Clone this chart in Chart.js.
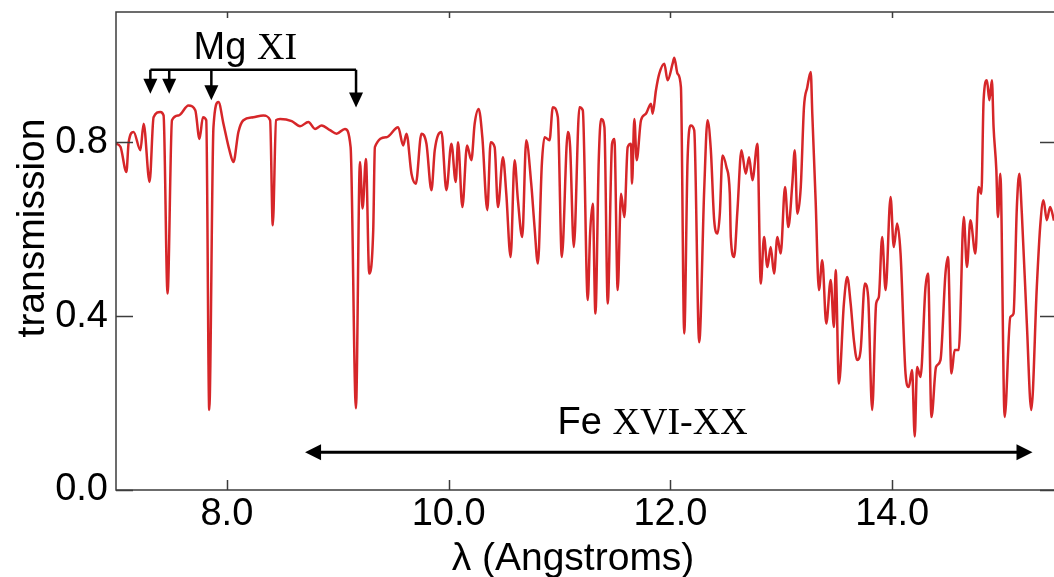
<!DOCTYPE html>
<html>
<head>
<meta charset="utf-8">
<script src="https://cdn.jsdelivr.net/npm/chart.js"></script>
<style>
  html, body { margin: 0; padding: 0; background: #fff; }
  #wrap { width: 1054px; height: 577px; }
</style>
</head>
<body>
<div id="wrap"><canvas id="spectrum" width="1054" height="577"></canvas></div>
<script>
// wavelength (Angstroms) and transmission, row by row
var wavelength = [
  7.000, 7.040, 7.094, 7.114, 7.159, 7.220, 7.249, 7.303, 7.339, 7.400,
  7.429, 7.465, 7.505, 7.564, 7.654, 7.715, 7.753, 7.784, 7.814, 7.841,
  7.879, 7.924, 7.969, 8.023, 8.059, 8.104, 8.149, 8.239, 8.329, 8.390,
  8.414, 8.444, 8.480, 8.585, 8.660, 8.735, 8.795, 8.855, 8.930, 8.990,
  9.065, 9.116,
  9.164, 9.200, 9.224, 9.254, 9.284, 9.320, 9.335, 9.440, 9.545, 9.590,
  9.620, 9.665, 9.704, 9.755, 9.800, 9.845, 9.875, 9.935, 9.980, 10.025,
  10.064, 10.085, 10.124, 10.166, 10.205, 10.235, 10.271, 10.304, 10.349, 10.379,
  10.415, 10.445, 10.490, 10.520, 10.559, 10.595, 10.625, 10.664, 10.700, 10.745,
  10.775, 10.805, 10.841, 10.865, 10.910, 10.940, 10.985, 11.021, 11.075, 11.096,
  11.129, 11.180, 11.210, 11.255, 11.276, 11.300, 11.324, 11.354, 11.375, 11.405,
  11.435, 11.474, 11.495, 11.525, 11.555, 11.585, 11.615, 11.645, 11.654, 11.675,
  11.696, 11.735, 11.780, 11.825, 11.840, 11.870, 11.900, 11.945, 11.975, 12.020,
  12.035, 12.065, 12.095, 12.125, 12.155, 12.185, 12.215, 12.260, 12.305, 12.335,
  12.365, 12.395, 12.425, 12.446, 12.470, 12.506, 12.536, 12.545, 12.575, 12.605,
  12.641, 12.680, 12.710, 12.740, 12.785, 12.815, 12.845, 12.875, 12.905, 12.935,
  12.965, 12.995, 13.034, 13.064, 13.100, 13.122, 13.145, 13.176, 13.205, 13.235,
  13.266, 13.280, 13.310, 13.340, 13.370, 13.406, 13.446, 13.475, 13.491, 13.520,
  13.565, 13.595, 13.626, 13.655, 13.685, 13.716, 13.754, 13.784, 13.820, 13.856,
  13.880, 13.910, 13.941, 13.986, 14.015, 14.045, 14.076, 14.121, 14.150, 14.180,
  14.204, 14.225, 14.256, 14.301, 14.324, 14.355, 14.396, 14.436, 14.481, 14.504,
  14.535, 14.564, 14.601, 14.646, 14.675, 14.706, 14.751, 14.780, 14.805, 14.825,
  14.855, 14.877, 14.900, 14.915, 14.940, 14.954, 14.976, 15.015, 15.066, 15.095,
  15.125, 15.147, 15.170, 15.215, 15.255, 15.305, 15.335, 15.365, 15.395, 15.425,
  15.460
];
var transmission = [
  0.797, 0.790, 0.732, 0.800, 0.824, 0.782, 0.843, 0.709, 0.858, 0.870,
  0.862, 0.452, 0.851, 0.862, 0.885, 0.874, 0.808, 0.858, 0.851, 0.184,
  0.835, 0.893, 0.843, 0.782, 0.755, 0.824, 0.851, 0.858, 0.862, 0.851,
  0.609, 0.851, 0.854, 0.849, 0.837, 0.847, 0.831, 0.839, 0.828, 0.820,
  0.831, 0.789,
  0.188, 0.755, 0.648, 0.762, 0.498, 0.598, 0.789, 0.812, 0.835, 0.793,
  0.820, 0.728, 0.705, 0.820, 0.797, 0.690, 0.782, 0.824, 0.690, 0.797,
  0.709, 0.800, 0.651, 0.793, 0.759, 0.843, 0.877, 0.812, 0.644, 0.800,
  0.789, 0.651, 0.766, 0.682, 0.536, 0.759, 0.667, 0.582, 0.805, 0.705,
  0.605, 0.521, 0.751, 0.812, 0.805, 0.881, 0.858, 0.536, 0.824, 0.789,
  0.559, 0.881, 0.874, 0.437, 0.590, 0.659, 0.406, 0.759, 0.854, 0.835,
  0.429, 0.797, 0.808, 0.460, 0.682, 0.628, 0.789, 0.797, 0.705, 0.854,
  0.759, 0.851, 0.866, 0.889, 0.866, 0.920, 0.958, 0.981, 0.943, 0.981,
  0.995, 0.958, 0.927, 0.360, 0.759, 0.839, 0.828, 0.340, 0.690, 0.851,
  0.782, 0.621, 0.590, 0.636, 0.770, 0.743, 0.682, 0.582, 0.536, 0.644,
  0.782, 0.728, 0.766, 0.713, 0.797, 0.475, 0.582, 0.513, 0.559, 0.498,
  0.582, 0.544, 0.697, 0.605, 0.705, 0.782, 0.636, 0.697, 0.881, 0.927,
  0.962, 0.866, 0.667, 0.460, 0.529, 0.383, 0.483, 0.375, 0.506, 0.245,
  0.429, 0.490, 0.429, 0.345, 0.299, 0.322, 0.475, 0.444, 0.184, 0.429,
  0.444, 0.582, 0.460, 0.674, 0.559, 0.613, 0.544, 0.268, 0.237, 0.276,
  0.123, 0.283, 0.260, 0.467, 0.498, 0.168, 0.283, 0.299, 0.498, 0.536,
  0.268, 0.322, 0.322, 0.628, 0.513, 0.621, 0.544, 0.697, 0.682, 0.897,
  0.943, 0.897, 0.943, 0.835, 0.736, 0.628, 0.728, 0.168, 0.398, 0.406,
  0.651, 0.728, 0.636, 0.383, 0.184, 0.467, 0.605, 0.667, 0.621, 0.651,
  0.620
];

// Mg XI line markers (wavelength, arrow tip transmission)
var mgLines = [7.31, 7.48, 7.86, 9.165];
var mgTips = [0.912, 0.912, 0.897, 0.880];
var mgBracket = 0.967;
// Fe XVI-XX band
var feBand = [8.705, 15.266];
var feLevel = 0.087;

var SANS = "'Liberation Sans', Arial, sans-serif";
var SERIF = "'Liberation Serif', 'Times New Roman', serif";

function isMult(v, step) {
  var r = v / step;
  return Math.abs(r - Math.round(r)) < 1e-6;
}

function arrowHead(ctx, x, y, dx, dy, len, half) {
  // tip at (x, y), pointing along (dx, dy)
  ctx.beginPath();
  ctx.moveTo(x, y);
  ctx.lineTo(x - dx * len - dy * half, y - dy * len + dx * half);
  ctx.lineTo(x - dx * len + dy * half, y - dy * len - dx * half);
  ctx.closePath();
  ctx.fill();
}

var frame = {
  id: 'frame',
  afterDraw: function (chart) {
    var ctx = chart.ctx, a = chart.chartArea;
    var x = chart.scales.x, y = chart.scales.y;
    ctx.save();

    // box
    ctx.strokeStyle = '#3c3c3c';
    ctx.lineWidth = 1.5;
    ctx.beginPath();
    ctx.moveTo(a.right, a.top);
    ctx.lineTo(a.left, a.top);
    ctx.lineTo(a.left, a.bottom);
    ctx.lineTo(a.right, a.bottom);
    ctx.stroke();

    // inward ticks
    ctx.beginPath();
    x.ticks.forEach(function (t) {
      var px = Math.round(x.getPixelForValue(t.value)) + 0.5;
      var major = isMult(t.value, 2);
      ctx.moveTo(px, a.bottom); ctx.lineTo(px, a.bottom - (major ? 10 : 5));
      ctx.moveTo(px, a.top); ctx.lineTo(px, a.top + (major ? 6 : 4));
    });
    y.ticks.forEach(function (t) {
      var py = Math.round(y.getPixelForValue(t.value)) + 0.5;
      var major = isMult(t.value, 0.2);
      ctx.moveTo(a.left, py); ctx.lineTo(a.left + (major ? 17 : 8), py);
      ctx.moveTo(a.right, py); ctx.lineTo(a.right - (major ? 14 : 4), py);
    });
    ctx.stroke();

    // axis titles
    ctx.fillStyle = '#000';
    ctx.font = '39px ' + SANS;
    ctx.textAlign = 'center';
    ctx.textBaseline = 'alphabetic';
    ctx.fillText('\u03bb (Angstroms)', 573, 570);
    ctx.save();
    ctx.translate(44, 228);
    ctx.rotate(-Math.PI / 2);
    ctx.fillText('transmission', 0, 0);
    ctx.restore();

    // Mg XI bracket
    ctx.strokeStyle = '#000';
    ctx.fillStyle = '#000';
    ctx.lineWidth = 2.5;
    var by = y.getPixelForValue(mgBracket);
    var x0 = x.getPixelForValue(mgLines[0]);
    var x1 = x.getPixelForValue(mgLines[mgLines.length - 1]);
    ctx.beginPath();
    ctx.moveTo(x0, by); ctx.lineTo(x1, by);
    mgLines.forEach(function (w, i) {
      var px = x.getPixelForValue(w);
      var tip = y.getPixelForValue(mgTips[i]);
      ctx.moveTo(px, by); ctx.lineTo(px, tip - 12);
    });
    ctx.stroke();
    mgLines.forEach(function (w, i) {
      arrowHead(ctx, x.getPixelForValue(w), y.getPixelForValue(mgTips[i]), 0, 1, 15, 7);
    });

    // Fe band arrow
    ctx.lineWidth = 3;
    var fy = y.getPixelForValue(feLevel);
    var fl = x.getPixelForValue(feBand[0]);
    var fr = x.getPixelForValue(feBand[1]);
    ctx.beginPath();
    ctx.moveTo(fl + 12, fy); ctx.lineTo(fr - 12, fy);
    ctx.stroke();
    arrowHead(ctx, fl, fy, -1, 0, 16, 8);
    arrowHead(ctx, fr, fy, 1, 0, 16, 8);

    // labels: element in sans, ion stage in serif
    function mixed(a1, a2, px, py) {
      ctx.textAlign = 'left';
      ctx.font = '38px ' + SANS;
      ctx.fillText(a1, px, py);
      var w = ctx.measureText(a1).width;
      ctx.font = '38px ' + SERIF;
      ctx.fillText(a2, px + w, py);
    }
    mixed('Mg ', 'XI', x.getPixelForValue(7.70), y.getPixelForValue(0.992));
    mixed('Fe ', 'XVI-XX', x.getPixelForValue(10.983), y.getPixelForValue(0.130));

    ctx.restore();
  }
};

var points = wavelength.map(function (w, i) { return { x: w, y: transmission[i] }; });

new Chart('spectrum', {
  type: 'line',
  data: {
    datasets: [{
      data: points,
      borderColor: '#d62629',
      borderWidth: 2.5,
      pointRadius: 0,
      cubicInterpolationMode: 'monotone',
      fill: false
    }]
  },
  options: {
    responsive: false,
    animation: false,
    layout: { padding: { top: 12, left: 0, right: 0, bottom: 0 } },
    plugins: {
      legend: { display: false },
      tooltip: { enabled: false }
    },
    scales: {
      x: {
        type: 'linear',
        bounds: 'data',
        min: 7,
        max: 15.46,
        grid: { display: false, drawTicks: false },
        border: { display: false },
        afterFit: function (s) { s.height = 87; s.paddingLeft = 0; s.paddingRight = 0; },
        ticks: {
          stepSize: 0.5,
          includeBounds: false,
          autoSkip: false,
          maxRotation: 0,
          padding: 2,
          color: '#000',
          font: { family: SANS, size: 38 },
          callback: function (v) { return isMult(v, 2) ? v.toFixed(1) : null; }
        }
      },
      y: {
        bounds: 'data',
        min: 0,
        max: 1.1,
        grid: { display: false, drawTicks: false },
        border: { display: false },
        afterFit: function (s) { s.width = 116; s.paddingTop = 0; s.paddingBottom = 0; },
        ticks: {
          stepSize: 0.05,
          autoSkip: false,
          padding: 8,
          color: '#000',
          font: { family: SANS, size: 38 },
          callback: function (v) { return isMult(v, 0.4) ? v.toFixed(1) : null; }
        }
      }
    }
  },
  plugins: [frame]
});
</script>
</body>
</html>
